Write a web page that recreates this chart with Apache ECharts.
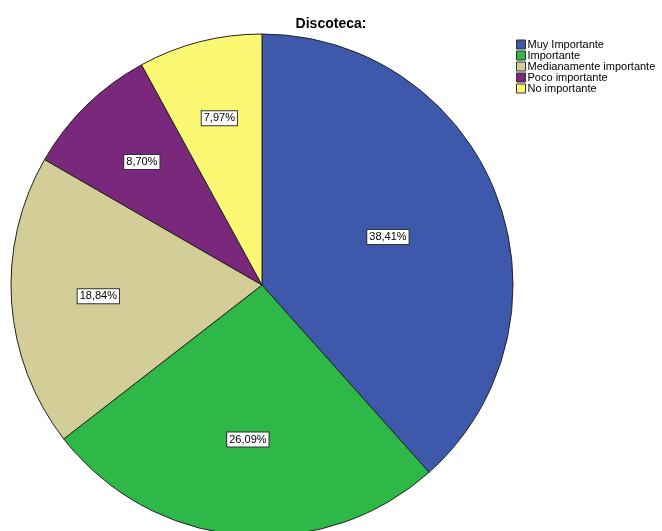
<!DOCTYPE html>
<html>
<head>
<meta charset="utf-8">
<script src="https://cdn.jsdelivr.net/npm/echarts@6/dist/echarts.min.js"></script>
<style>
  html, body { margin: 0; padding: 0; background: #fff; }
  #chart { width: 662px; height: 531px; }
</style>
</head>
<body>
<div id="chart"></div>
<script>
const categories = ['Muy Importante', 'Importante', 'Medianamente importante', 'Poco importante', 'No importante'];
const percents = [38.41, 26.09, 18.84, 8.70, 7.97];
const colors = ['#3e58ac', '#2eb848', '#d3ce97', '#7a287b', '#fbf873'];

const cx = 262, cy = 285, R = 251;
const total = percents.reduce((a, b) => a + b, 0);

// Label anchor at each sector's centroid (angles clockwise from 12 o'clock)
function centroid(i) {
  let before = 0;
  for (let k = 0; k < i; k++) before += percents[k];
  const half = Math.PI * percents[i] / total;
  const mid = 2 * Math.PI * before / total + half;
  const d = 2 * R * Math.sin(half) / (3 * half) * 1.04;
  return { x: cx + d * Math.sin(mid), y: cy - d * Math.cos(mid) };
}

const chart = echarts.init(document.getElementById('chart'));
chart.setOption({
  animation: false,
  backgroundColor: '#ffffff',
  title: {
    text: 'Discoteca:',
    left: 'center',
    top: 12,
    textStyle: { fontFamily: 'Liberation Sans, Arial', fontSize: 14, fontWeight: 'bold', color: '#000' }
  },
  legend: {
    orient: 'vertical',
    left: 511,
    top: 34,
    itemWidth: 9,
    itemHeight: 9,
    itemGap: 0,
    icon: 'rect',
    data: categories,
    textStyle: { fontFamily: 'Liberation Sans, Arial', fontSize: 11, lineHeight: 11, color: '#000', padding: [0, 0, 0, -3] },
    itemStyle: { borderColor: '#333', borderWidth: 1 }
  },
  series: [{
    type: 'pie',
    center: [cx, cy],
    radius: [0, R],
    startAngle: 90,
    clockwise: true,
    silent: true,
    itemStyle: { borderColor: '#222', borderWidth: 1 },
    label: {
      show: true,
      position: 'inside',
      formatter: p => percents[p.dataIndex].toFixed(2).replace('.', ',') + '%',
      fontFamily: 'Liberation Sans, Arial',
      fontSize: 11,
      color: '#000',
      backgroundColor: '#fff',
      borderColor: '#333',
      borderWidth: 1,
      padding: [2, 2, 1, 2]
    },
    labelLayout: p => {
      const c = centroid(p.dataIndex);
      return { x: c.x, y: c.y };
    },
    labelLine: { show: false },
    data: categories.map((name, i) => ({
      name,
      value: percents[i],
      itemStyle: { color: colors[i] }
    }))
  }]
});
</script>
</body>
</html>
